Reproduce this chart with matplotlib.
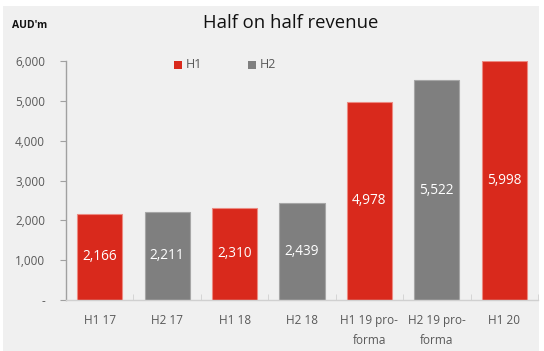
import matplotlib
matplotlib.use("Agg")
import matplotlib.pyplot as plt
from matplotlib.patches import Rectangle
import numpy as np

categories = ["H1 17", "H2 17", "H1 18", "H2 18", "H1 19 pro-\nforma", "H2 19 pro-\nforma", "H1 20"]
values = [2166, 2211, 2310, 2439, 4978, 5522, 5998]
halves = ["H1", "H2", "H1", "H2", "H1", "H2", "H1"]
yticks = [0, 1000, 2000, 3000, 4000, 5000, 6000]
ytick_labels = ["-", "1,000", "2,000", "3,000", "4,000", "5,000", "6,000"]

RED = "#d9291c"
GREY = "#7f7f7f"
BG = "#f0f0f0"
colors = {"H1": RED, "H2": GREY}
edges = {"H1": "#ec8a82", "H2": "#a6a6a6"}

plt.rcParams['font.family'] = ['Open Sans', 'DejaVu Sans']

fig = plt.figure(figsize=(5.44, 3.51), dpi=100)
fig.patch.set_facecolor("white")
fig.patches.append(Rectangle((3/544, 0), 536/544, 345/351, transform=fig.transFigure,
                             facecolor=BG, edgecolor="none", zorder=-10))

ax = fig.add_axes([66/544, 51/351, 472/544, 239/351])
ax.set_facecolor(BG)
ax.patch.set_alpha(0)

x = np.arange(len(categories))
bars = ax.bar(x, values, width=0.67,
              color=[colors[h] for h in halves],
              edgecolor=[edges[h] for h in halves], linewidth=0.8, zorder=2)
for xi, v in zip(x, values):
    ax.text(xi, v / 2, f"{v:,}", ha="center", va="center", color="white",
            fontsize=9.8, zorder=3)

ax.set_xlim(-0.5, len(categories) - 0.5)
ax.set_ylim(0, 6000)
ax.set_yticks(yticks)
ax.set_yticklabels(ytick_labels, fontsize=8.5, color="#595959")
ax.set_xticks(x)
ax.set_xticklabels(categories, fontsize=8.5, color="#595959", linespacing=1.75)
ax.set_xticks(np.arange(len(categories) + 1) - 0.5, minor=True)
ax.tick_params(axis="x", which="major", direction="in", length=3, color="#d0d0d0", pad=10)
ax.tick_params(axis="x", which="minor", direction="in", length=4, color="#d0d0d0")
ax.tick_params(axis="y", which="major", direction="out", length=4, color="#a0a0a0", pad=11)
for lab in ax.get_yticklabels():
    lab.set_horizontalalignment("right")

for s in ["top", "right"]:
    ax.spines[s].set_visible(False)
ax.spines["left"].set_color("#a0a0a0")
ax.spines["bottom"].set_color("#d0d0d0")
ax.spines["left"].set_linewidth(1.0)
ax.spines["bottom"].set_linewidth(1.0)

fig.text(291/544, 1 - 23/351, "Half on half revenue", ha="center", va="center",
         fontsize=13.3, color="#111111")
fig.text(12/544, 1 - 25/351, "AUD'm", ha="left", va="center", fontsize=7.5,
         fontweight="bold", color="#111111")

# legend
for lx, lab, col in [(174, "H1", RED), (248, "H2", GREY)]:
    fig.patches.append(Rectangle((lx/544, 1 - 69/351), 8/544, 8/351,
                                 transform=fig.transFigure, facecolor=col, edgecolor="none"))
    fig.text((lx + 12)/544, 1 - 64.5/351, lab, ha="left", va="center", fontsize=9,
             color="#595959")

fig.savefig("out.png", dpi=100, facecolor=fig.get_facecolor())
